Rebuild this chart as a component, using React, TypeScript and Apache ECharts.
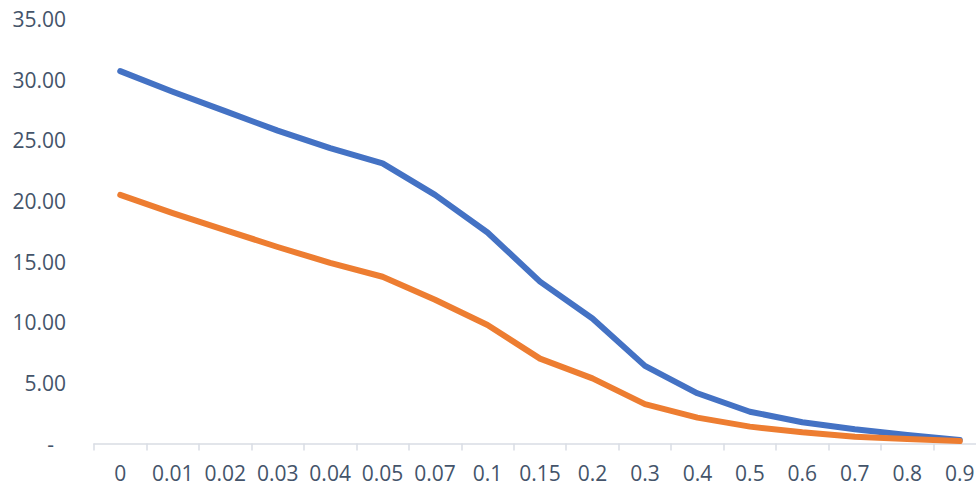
import React, { useEffect, useRef } from "react";
import * as echarts from "echarts";

const categories = ["0", "0.01", "0.02", "0.03", "0.04", "0.05", "0.07", "0.1", "0.15", "0.2", "0.3", "0.4", "0.5", "0.6", "0.7", "0.8", "0.9"];
const blueValues = [30.7, 29.0, 27.4, 25.8, 24.35, 23.1, 20.5, 17.4, 13.35, 10.3, 6.4, 4.14, 2.62, 1.75, 1.17, 0.7, 0.29];
const orangeValues = [20.5, 19.0, 17.6, 16.2, 14.9, 13.75, 11.85, 9.77, 7.0, 5.37, 3.25, 2.13, 1.39, 0.92, 0.56, 0.37, 0.2];
const yTicks = { min: 0, max: 35, interval: 5 };

export default function App() {
  const ref = useRef<HTMLDivElement>(null);
  useEffect(() => {
    if (!ref.current) return;
    const chart = echarts.init(ref.current, undefined, { renderer: "svg" });
    const font = "'Open Sans', 'Noto Sans', sans-serif";
    chart.setOption({
      animation: false,
      grid: { left: 94, right: -10, top: 19, bottom: 43.5, containLabel: false, outerBoundsMode: "none" },
      xAxis: {
        type: "category",
        data: categories,
        boundaryGap: true,
        axisLine: { show: true, lineStyle: { color: "#d9dde4", width: 1.5 } },
        axisTick: { show: true, length: 7, lineStyle: { color: "#d9dde4", width: 1.5 } },
        axisLabel: { color: "#44546a", fontSize: 21, fontFamily: font, margin: 19, interval: 0 },
        splitLine: { show: false },
      },
      yAxis: {
        type: "value",
        min: yTicks.min,
        max: yTicks.max,
        interval: yTicks.interval,
        axisLine: { show: false },
        axisTick: { show: false },
        splitLine: { show: false },
        axisLabel: {
          color: "#44546a",
          fontSize: 21,
          fontFamily: font,
          margin: 28,
          formatter: (v: number) => (v === 0 ? "{d|-}" : v.toFixed(2)),
          rich: { d: { color: "#44546a", fontSize: 21, fontFamily: font, padding: [0, 12, 0, 0] } },
        },
      },
      series: [
        {
          type: "line",
          data: blueValues,
          symbol: "none",
          lineStyle: { color: "#4472c4", width: 6, cap: "round", join: "round" },
          itemStyle: { color: "#4472c4" },
        },
        {
          type: "line",
          data: orangeValues,
          symbol: "none",
          lineStyle: { color: "#ed7d31", width: 6, cap: "round", join: "round" },
          itemStyle: { color: "#ed7d31" },
        },
      ],
    });
    return () => chart.dispose();
  }, []);
  return <div ref={ref} style={{ width: 976, height: 487, position: "absolute", left: 0, top: 0 }} />;
}
